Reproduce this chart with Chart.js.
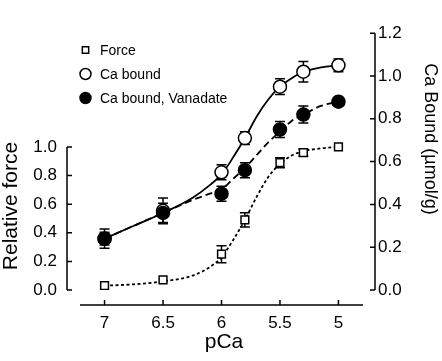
<!DOCTYPE html>
<html>
<head>
<meta charset="utf-8">
<script src="https://cdn.jsdelivr.net/npm/chart.js@4.4.0/dist/chart.umd.min.js"></script>
<style>
  html, body { margin: 0; padding: 0; background: #fff; }
</style>
</head>
<body>
<canvas id="calcium" width="442" height="361"></canvas>
<script>
// measured points
const pCa = [7, 6.5, 6, 5.8, 5.5, 5.3, 5];
const force = [0.03, 0.07, 0.25, 0.49, 0.89, 0.96, 1.0];
const forceErr = [0, 0, 0.06, 0.05, 0.035, 0.025, 0];
const caBound = [0.24, 0.37, 0.55, 0.71, 0.95, 1.02, 1.05];
const caBoundErr = [0.03, 0.06, 0.035, 0.03, 0.037, 0.048, 0.03];
const caVanadate = [0.24, 0.36, 0.45, 0.56, 0.75, 0.82, 0.88];
const caVanadateErr = [0.045, 0.045, 0.035, 0.035, 0.037, 0.04, 0];

// fitted curves
const fitPCa = [7, 6.75, 6.5, 6.25, 6.1, 6, 5.9, 5.8, 5.7, 5.6, 5.5, 5.4, 5.3, 5.15, 5];
const forceFit = [0.03, 0.04, 0.06, 0.10, 0.16, 0.23, 0.35, 0.49, 0.65, 0.79, 0.88, 0.94, 0.97, 0.99, 1.0];
const caBoundFit = [0.24, 0.30, 0.36, 0.43, 0.49, 0.54, 0.62, 0.71, 0.81, 0.89, 0.95, 0.99, 1.02, 1.04, 1.05];
const caVanadateFit = [0.24, 0.30, 0.36, 0.42, 0.45, 0.47, 0.52, 0.57, 0.63, 0.69, 0.74, 0.79, 0.82, 0.86, 0.88];

const xTicks = [7, 6.5, 6, 5.5, 5];
const forceTicks = [0, 0.2, 0.4, 0.6, 0.8, 1.0];
const caTicks = [0, 0.2, 0.4, 0.6, 0.8, 1.0, 1.2];

const FONT = 'Arial, "Liberation Sans", sans-serif';
Chart.defaults.font.family = FONT;
Chart.defaults.color = "#000";

function pts(xs, ys) {
  return xs.map((x, i) => ({ x: x, y: ys[i] }));
}

function fitLine(ys, axis, dash) {
  return {
    data: pts(fitPCa, ys),
    yAxisID: axis,
    showLine: true,
    pointRadius: 0,
    borderColor: "#000",
    borderWidth: 1.8,
    borderDash: dash,
    cubicInterpolationMode: "monotone",
    order: 2,
    isFit: true,
  };
}

const errorBars = {
  id: "errorBars",
  beforeDatasetsDraw(chart) {
    const ctx = chart.ctx;
    const xs = chart.scales.x;
    ctx.save();
    ctx.strokeStyle = "#000";
    ctx.lineWidth = 1.5;
    chart.data.datasets.forEach((ds) => {
      if (!ds.errors) return;
      const ys = chart.scales[ds.yAxisID];
      ds.data.forEach((p, i) => {
        const e = ds.errors[i];
        if (!e) return;
        const px = xs.getPixelForValue(p.x);
        const top = ys.getPixelForValue(p.y + e);
        const bot = ys.getPixelForValue(p.y - e);
        ctx.beginPath();
        ctx.moveTo(px, top); ctx.lineTo(px, bot);
        ctx.moveTo(px - 5, top); ctx.lineTo(px + 5, top);
        ctx.moveTo(px - 5, bot); ctx.lineTo(px + 5, bot);
        ctx.stroke();
      });
    });
    ctx.restore();
  },
};

function titleText(ctx, text, size, x, y, angle) {
  ctx.save();
  ctx.font = size + "px " + FONT;
  ctx.translate(x, y);
  ctx.rotate(angle);
  ctx.textAlign = "center";
  ctx.textBaseline = "middle";
  ctx.fillText(text, 0, 0);
  ctx.restore();
}

const axesAndTitles = {
  id: "axesAndTitles",
  afterDraw(chart) {
    const { ctx, chartArea } = chart;
    const { x, y, y1 } = chart.scales;
    ctx.save();
    ctx.strokeStyle = "#000";
    ctx.lineWidth = 1.5;
    ctx.beginPath();
    // left axis (relative force), only 0..1
    const lx = 67;
    ctx.moveTo(lx, y.getPixelForValue(0));
    ctx.lineTo(lx, y.getPixelForValue(1));
    forceTicks.forEach((v) => {
      const py = y.getPixelForValue(v);
      ctx.moveTo(lx, py); ctx.lineTo(lx + 5, py);
    });
    // right axis (Ca bound)
    const rx = 375;
    ctx.moveTo(rx, y1.getPixelForValue(0));
    ctx.lineTo(rx, y1.getPixelForValue(1.2));
    caTicks.forEach((v) => {
      const py = y1.getPixelForValue(v);
      ctx.moveTo(rx, py); ctx.lineTo(rx - 5, py);
    });
    // bottom axis
    const by = 305;
    ctx.moveTo(chartArea.left, by);
    ctx.lineTo(chartArea.right, by);
    xTicks.forEach((v) => {
      const px = x.getPixelForValue(v);
      ctx.moveTo(px, by); ctx.lineTo(px, by - 5);
    });
    ctx.stroke();

    ctx.fillStyle = "#000";
    titleText(ctx, "pCa", 21, 224, 342, 0);
    titleText(ctx, "Relative force", 21, 11, 206, -Math.PI / 2);
    titleText(ctx, "Ca Bound (\u00b5mol/g)", 18, 430, 139, Math.PI / 2);
    ctx.restore();
  },
};

const legendBox = {
  id: "legendBox",
  afterDraw(chart) {
    const ctx = chart.ctx;
    const rows = chart.data.datasets.filter((d) => !d.isFit);
    ctx.save();
    ctx.font = "14px " + FONT;
    ctx.textBaseline = "middle";
    ctx.textAlign = "left";
    rows.forEach((ds, i) => {
      const ly = 50 + i * 24;
      ctx.fillStyle = ds.backgroundColor;
      ctx.strokeStyle = ds.borderColor;
      ctx.lineWidth = ds.borderWidth;
      Chart.helpers.drawPoint(ctx, {
        pointStyle: ds.pointStyle,
        radius: ds.legendRadius,
        rotation: 0,
        borderWidth: ds.borderWidth,
      }, 85.5, ly);
      ctx.fillStyle = "#000";
      ctx.fillText(ds.label, 100, ly + 1);
    });
    ctx.restore();
  },
};

const data = {
  datasets: [
    {
      label: "Force",
      data: pts(pCa, force),
      errors: forceErr,
      yAxisID: "y",
      pointStyle: "rect",
      pointRadius: 5.5,
      legendRadius: 4.5,
      backgroundColor: "#fff",
      borderColor: "#000",
      borderWidth: 1.5,
      order: 0,
    },
    {
      label: "Ca bound",
      data: pts(pCa, caBound),
      errors: caBoundErr,
      yAxisID: "y1",
      pointStyle: "circle",
      pointRadius: 6.5,
      legendRadius: 5.5,
      backgroundColor: "#fff",
      borderColor: "#000",
      borderWidth: 1.5,
      order: 1,
    },
    {
      label: "Ca bound, Vanadate",
      data: pts(pCa, caVanadate),
      errors: caVanadateErr,
      yAxisID: "y1",
      pointStyle: "circle",
      pointRadius: 6.5,
      legendRadius: 5.5,
      backgroundColor: "#000",
      borderColor: "#000",
      borderWidth: 1.5,
      order: -1,
    },
    fitLine(forceFit, "y", [3, 2.5]),
    fitLine(caBoundFit, "y1", []),
    fitLine(caVanadateFit, "y1", [7, 4]),
  ],
};

const config = {
  type: "scatter",
  data,
  options: {
    responsive: false,
    animation: false,
    layout: { padding: { top: 10, left: 0, right: 0, bottom: 0 } },
    plugins: {
      legend: { display: false },
      tooltip: { enabled: false },
    },
    scales: {
      x: {
        type: "linear",
        reverse: true,
        min: 4.79,
        max: 7.21,
        grid: { display: false, drawTicks: false },
        border: { display: false },
        ticks: {
          font: { size: 17 },
          padding: 23,
          callback: (v) => String(v),
        },
        afterBuildTicks: (s) => { s.ticks = xTicks.map((v) => ({ value: v })); },
        afterFit: (s) => { s.height = 71; },
      },
      y: {
        position: "left",
        min: 0,
        max: 280 / 156,
        grid: { display: false, drawTicks: false },
        border: { display: false },
        ticks: {
          font: { size: 17 },
          padding: 23,
          callback: (v) => v.toFixed(1),
        },
        afterBuildTicks: (s) => { s.ticks = forceTicks.map((v) => ({ value: v })); },
        afterFit: (s) => { s.width = 80; },
      },
      y1: {
        position: "right",
        min: 0,
        max: 1.2,
        grid: { display: false, drawTicks: false },
        border: { display: false },
        ticks: {
          font: { size: 17 },
          padding: 15,
          callback: (v) => v.toFixed(1),
        },
        afterBuildTicks: (s) => { s.ticks = caTicks.map((v) => ({ value: v })); },
        afterFit: (s) => { s.width = 79; },
      },
    },
  },
  plugins: [errorBars, axesAndTitles, legendBox],
};

new Chart(document.getElementById("calcium"), config);
</script>
</body>
</html>
